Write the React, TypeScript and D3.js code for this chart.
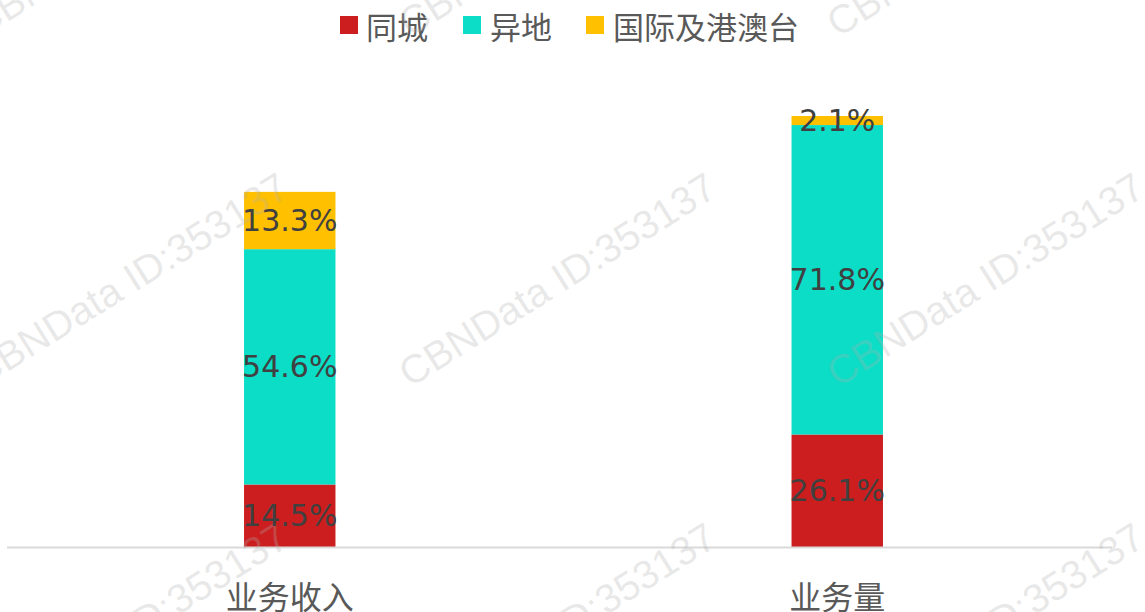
import React from "react";
import * as d3 from "d3";

const categories = ["业务收入", "业务量"];
const seriesNames = ["同城", "异地", "国际及港澳台"];
const sameCity = [14.5, 26.1];
const interCity = [54.6, 71.8];
const international = [13.3, 2.1];
const colors = ["#CC1E1E", "#0BDDC6", "#FFC000"];

const W = 1145;
const H = 612;

export default function App() {
  const x = d3.scaleBand<string>().domain(categories).range([16, 1111]).padding(0);
  const y = d3.scaleLinear().domain([0, 100]).range([547, 116]);
  const barW = x.bandwidth() * 0.167;

  const rows = categories.map((c, i) => ({
    cat: c,
    v0: sameCity[i],
    v1: interCity[i],
    v2: international[i],
  }));
  const stack = d3.stack<any>().keys(["v0", "v1", "v2"])(rows);

  const legendItems = [
    { name: seriesNames[0], sx: 340, tx: 366 },
    { name: seriesNames[1], sx: 463, tx: 490 },
    { name: seriesNames[2], sx: 586, tx: 613 },
  ];

  const wmRows = [38, 388, 738];
  const wmCols = [-18, 410, 838];

  const cjk = "'Noto Sans CJK SC', 'Noto Sans', sans-serif";

  return (
    <svg width={W} height={H} style={{ position: "absolute", left: 0, top: 0 }}>
      <rect x={0} y={0} width={W} height={H} fill="#fff" />
      {/* legend */}
      {legendItems.map((l, i) => (
        <g key={l.name}>
          <rect x={l.sx} y={16} width={18} height={18} fill={colors[i]} />
          <text x={l.tx} y={25} dominantBaseline="central" fontFamily={cjk} fontSize={31} fill="#595959">
            {l.name}
          </text>
        </g>
      ))}
      {/* bars */}
      {stack.map((s, si) => (
        <g key={si} fill={colors[si]}>
          {s.map((d: any, i: number) => (
            <rect
              key={i}
              x={(x(categories[i]) as number) + x.bandwidth() / 2 - barW / 2}
              y={y(d[1])}
              width={barW}
              height={y(d[0]) - y(d[1])}
            />
          ))}
        </g>
      ))}
      {/* axis */}
      <line x1={7} x2={1112} y1={547.5} y2={547.5} stroke="#d9d9d9" strokeWidth={2} />
      {/* watermarks */}
      {wmRows.map((ry) =>
        wmCols.map((cx) => (
          <text
            key={`${cx}-${ry}`}
            transform={`translate(${cx},${ry}) rotate(-32)`}
            fontFamily="'Liberation Sans', Arial, sans-serif"
            fontSize={40}
            fill="#b0b0b0"
            fillOpacity={0.28}
          >
            CBNData ID:353137
          </text>
        ))
      )}
      {/* data labels */}
      {stack.map((s, si) =>
        s.map((d: any, i: number) => (
          <text
            key={`${si}-${i}`}
            x={(x(categories[i]) as number) + x.bandwidth() / 2}
            y={(y(d[0]) + y(d[1])) / 2}
            textAnchor="middle"
            dominantBaseline="central"
            fontFamily="'DejaVu Sans', Verdana, sans-serif"
            fontSize={30}
            fill="#404040"
          >
            {`${(d[1] - d[0]).toFixed(1)}%`}
          </text>
        ))
      )}
      {/* category labels */}
      {categories.map((c) => (
        <text
          key={c}
          x={(x(c) as number) + x.bandwidth() / 2}
          y={595}
          textAnchor="middle"
          dominantBaseline="central"
          fontFamily={cjk}
          fontSize={32}
          fill="#595959"
        >
          {c}
        </text>
      ))}
    </svg>
  );
}
